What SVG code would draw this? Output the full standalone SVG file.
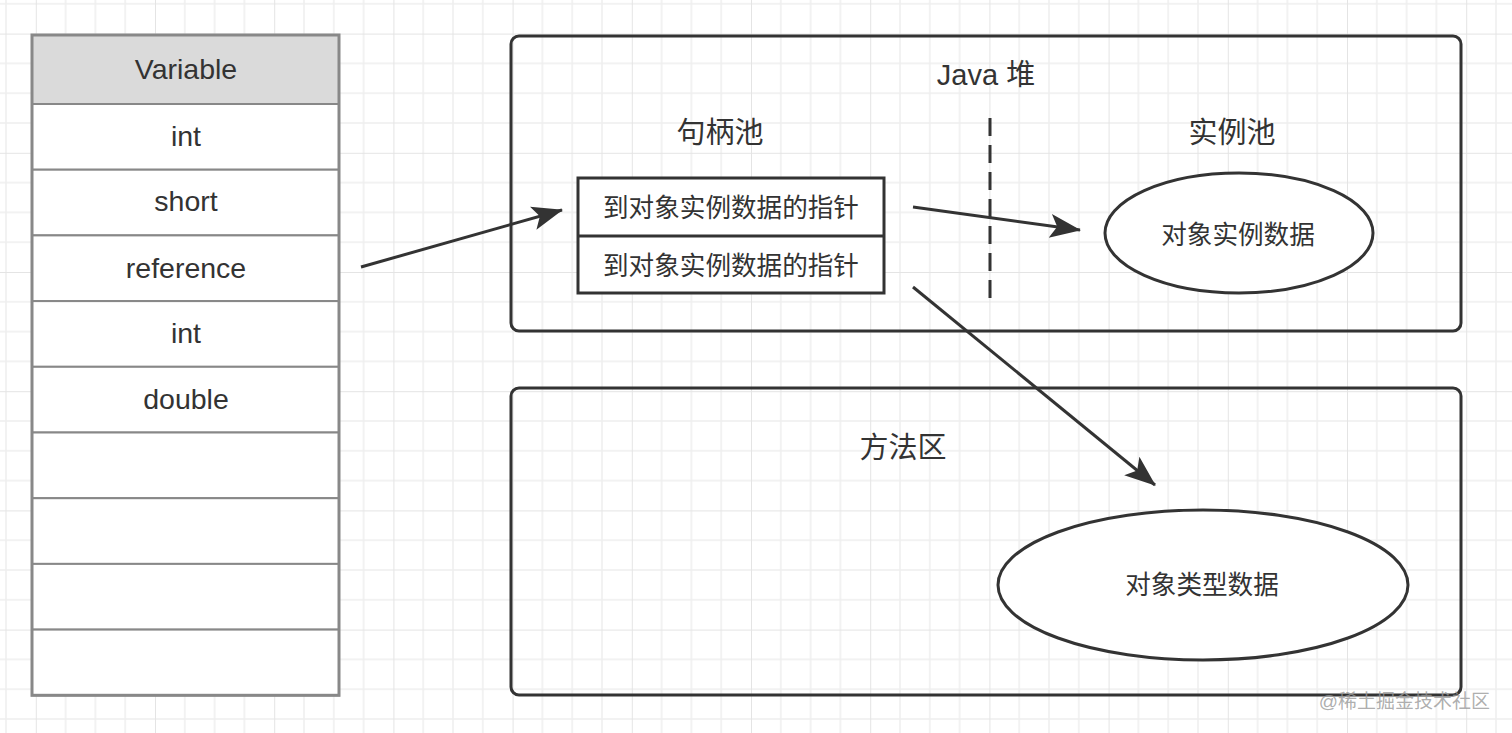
<svg xmlns="http://www.w3.org/2000/svg" width="1512" height="733" viewBox="0 0 1512 733">
<style>
.t{font-family:"Liberation Sans","Noto Sans CJK SC",sans-serif;fill:#333;text-anchor:middle;dominant-baseline:central}
.lt{font-size:28.5px}
.cell{fill:#fff;stroke:#888;stroke-width:2}
.box{fill:none;stroke:#333;stroke-width:3}
.conn{stroke:#333;stroke-width:3;fill:none;marker-end:url(#arr)}
</style>
<defs>
<pattern id="grid" patternUnits="userSpaceOnUse" x="35.8" y="33.6" width="119.2" height="119.2">
<path d="M29.8 0V119.2M59.6 0V119.2M89.4 0V119.2M0 29.8H119.2M0 59.6H119.2M0 89.4H119.2" stroke="#eeeeee" stroke-width="1.5" fill="none"/>
<path d="M0 0V119.2M0 0H119.2" stroke="#e4e4e4" stroke-width="2" fill="none"/>
</pattern>
<marker id="arr" markerUnits="userSpaceOnUse" markerWidth="34" markerHeight="26" refX="30" refY="12" orient="auto" viewBox="0 0 34 26">
<path d="M0 0L31 12L0 24L7 12z" fill="#333"/>
</marker>
</defs>
<rect width="1512" height="733" fill="#fff"/>
<rect width="1512" height="733" fill="url(#grid)"/>

<g id="variable-table">
<rect x="32" y="35" width="307" height="69" fill="#dadada" stroke="#888" stroke-width="2"/>
<text class="t lt" x="186" y="69">Variable</text>
<rect class="cell" x="32" y="104" width="307" height="65.7"/>
<text class="t lt" x="186" y="136">int</text>
<rect class="cell" x="32" y="169.7" width="307" height="65.7"/>
<text class="t lt" x="186" y="201">short</text>
<rect class="cell" x="32" y="235.4" width="307" height="65.7"/>
<text class="t lt" x="186" y="268">reference</text>
<rect class="cell" x="32" y="301.1" width="307" height="65.7"/>
<text class="t lt" x="186" y="333">int</text>
<rect class="cell" x="32" y="366.8" width="307" height="65.7"/>
<text class="t lt" x="186" y="399">double</text>
<rect class="cell" x="32" y="432.5" width="307" height="65.7"/>
<rect class="cell" x="32" y="498.2" width="307" height="65.7"/>
<rect class="cell" x="32" y="563.9" width="307" height="65.7"/>
<rect class="cell" x="32" y="629.6" width="307" height="65.7"/>
<rect x="32" y="35" width="307" height="660.3" fill="none" stroke="#888" stroke-width="3"/>
</g>

<g id="java-heap">
<rect class="box" x="511" y="36" width="950" height="295" rx="8"/>
<text class="t" x="986" y="75" font-size="29">Java 堆</text>
<text class="t" x="720" y="133" font-size="29">句柄池</text>
<text class="t" x="1232" y="133" font-size="29">实例池</text>
<line x1="990" y1="118" x2="990" y2="302" stroke="#333" stroke-width="3" stroke-dasharray="18 9"/>
</g>

<g id="handle-pool">
<rect x="578" y="178" width="306" height="115" fill="#fff" stroke="#333" stroke-width="3"/>
<line x1="578" y1="236" x2="884" y2="236" stroke="#333" stroke-width="3"/>
<text class="t" x="731" y="208" font-size="25.6">到对象实例数据的指针</text>
<text class="t" x="731" y="266" font-size="25.6">到对象实例数据的指针</text>
</g>

<g id="instance-data">
<ellipse cx="1239" cy="233" rx="134" ry="60" fill="#fff" stroke="#333" stroke-width="3"/>
<text class="t" x="1238" y="235" font-size="25.6">对象实例数据</text>
</g>

<g id="method-area">
<rect class="box" x="511" y="388" width="950" height="307" rx="8"/>
<text class="t" x="903" y="448" font-size="29">方法区</text>
</g>

<g id="type-data">
<ellipse cx="1203" cy="585" rx="205" ry="75" fill="#fff" stroke="#333" stroke-width="3"/>
<text class="t" x="1202" y="585" font-size="25.6">对象类型数据</text>
</g>

<g id="connectors">
<line class="conn" x1="361" y1="267" x2="562" y2="210"/>
<line class="conn" x1="913" y1="207" x2="1080" y2="230"/>
<line class="conn" x1="913" y1="287" x2="1155" y2="485"/>
</g>

<text x="1490" y="701" font-family="'Liberation Sans','Noto Sans CJK SC',sans-serif" font-size="19" fill="#999" fill-opacity="0.8" text-anchor="end" dominant-baseline="central">@稀土掘金技术社区</text>
</svg>
